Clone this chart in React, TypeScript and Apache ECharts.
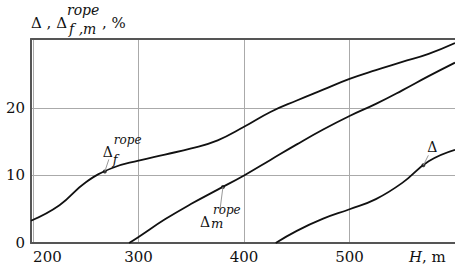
import React, { useEffect, useRef } from "react";
import * as echarts from "echarts";

// Δ_f^rope curve
const fH = [198, 225, 250, 275, 300, 325, 350, 375, 400, 425, 450, 475, 500, 525, 550, 575, 600];
const fV = [3.3, 5.6, 9.0, 11.1, 12.2, 13.1, 14.0, 15.2, 17.2, 19.4, 21.1, 22.7, 24.3, 25.6, 26.8, 28.0, 29.6];
// Δ_m^rope curve
const mH = [291, 300, 325, 350, 375, 400, 425, 450, 475, 500, 525, 550, 575, 600];
const mV = [0, 0.9, 3.5, 5.8, 7.9, 10.0, 12.3, 14.6, 16.8, 18.8, 20.6, 22.6, 24.7, 26.7];
// Δ curve
const dH = [430, 450, 475, 500, 525, 550, 575, 600];
const dV = [0, 1.8, 3.6, 5.0, 6.5, 8.9, 12.1, 13.8];
// annotated points
const markH = [268, 380, 570];
const markV = [10.6, 8.3, 11.5];

const xTicks = [200, 300, 400, 500];
const yTicks = [0, 10, 20];

const SERIF = "DejaVu Serif";

export default function App() {
  const ref = useRef<HTMLDivElement>(null);
  useEffect(() => {
    const chart = echarts.init(ref.current!, null, { renderer: "svg" });
    const lineStyle = { color: "#111", width: 1.8 };
    const mk = (h: number[], v: number[]) => h.map((x, i) => [x, v[i]]);
    const lineSeries = (h: number[], v: number[]) => ({
      type: "line",
      data: mk(h, v),
      smooth: 0.45,
      showSymbol: false,
      lineStyle,
      z: 3,
    });
    const labelStyle = { fontFamily: SERIF, fontSize: 15, color: "#111", margin: 6 };
    chart.setOption({
      animation: false,
      textStyle: { fontFamily: SERIF },
      grid: { left: 31, right: 0, top: 39, bottom: 25 },
      xAxis: [
        {
          type: "value",
          min: 198,
          max: 600,
          axisLine: { show: true, lineStyle: { color: "#555", width: 2 } },
          axisTick: { show: false, customValues: xTicks },
          axisLabel: { ...labelStyle, customValues: xTicks, alignMinLabel: "left" },
          splitLine: { show: true, lineStyle: { color: "#aaa", width: 1 } },
        },
        {
          type: "value",
          position: "top",
          min: 198,
          max: 600,
          axisLine: { show: true, lineStyle: { color: "#555", width: 2 } },
          axisTick: { show: false },
          axisLabel: { show: false },
          splitLine: { show: false },
        },
      ],
      yAxis: {
        type: "value",
        min: 0,
        max: 30.2,
        axisLine: { show: true, lineStyle: { color: "#555", width: 2 } },
        axisTick: { show: false, customValues: yTicks },
        axisLabel: { ...labelStyle, customValues: yTicks },
        splitLine: { show: true, lineStyle: { color: "#aaa", width: 1 } },
      },
      series: [
        lineSeries(fH, fV),
        lineSeries(mH, mV),
        lineSeries(dH, dV),
        {
          type: "scatter",
          data: mk(markH, markV),
          symbolSize: 4,
          itemStyle: { color: "#111" },
          z: 4,
        },
      ],
    });

    const px = markH.map((h, i) => chart.convertToPixel({ gridIndex: 0 }, [h, markV[i]]) as number[]);
    const txt = (x: number, y: number, text: string, size: number, italic = false) => ({
      type: "text",
      x,
      y,
      z: 10,
      style: {
        text,
        fontFamily: SERIF,
        fontSize: size,
        fontStyle: italic ? "italic" : "normal",
        fill: "#111",
        align: "left",
        verticalAlign: "middle",
      },
    });
    const leader = (p: number[], dx: number, dy: number) => ({
      type: "line",
      z: 10,
      shape: { x1: p[0], y1: p[1], x2: p[0] + dx, y2: p[1] + dy },
      style: { stroke: "#999", lineWidth: 1 },
    });
    const [pf, pm, pd] = px;
    chart.setOption({
      graphic: [
        // title
        txt(31, 22.5, "Δ , Δ", 15),
        txt(67, 10, "rope", 14, true),
        txt(69, 28.5, "f ,m", 14, true),
        txt(102, 22.5, ", %", 15),
        // x axis name
        {
          type: "text",
          x: 409,
          y: 257,
          style: {
            text: "{i|H}, m",
            fontFamily: SERIF,
            fontSize: 15,
            fill: "#111",
            verticalAlign: "middle",
            rich: { i: { fontFamily: SERIF, fontSize: 15, fontStyle: "italic", fill: "#111" } },
          },
        },
        // Δ_f^rope
        leader(pf, 4, -12),
        txt(pf[0] - 2, pf[1] - 19, "Δ", 14),
        txt(pf[0] + 9, pf[1] - 31, "rope", 12, true),
        txt(pf[0] + 8, pf[1] - 12, "f", 13, true),
        // Δ_m^rope
        leader(pm, -3, 23),
        txt(pm[0] - 23, pm[1] + 35, "Δ", 14),
        txt(pm[0] - 12, pm[1] + 37, "m", 13, true),
        txt(pm[0] - 10, pm[1] + 23, "rope", 12, true),
        // Δ
        leader(pd, 5, -10),
        txt(pd[0] + 4, pd[1] - 18, "Δ", 14),
      ],
    });
    return () => chart.dispose();
  }, []);
  return <div ref={ref} style={{ width: 455, height: 268, position: "absolute", left: 0, top: 0 }} />;
}
